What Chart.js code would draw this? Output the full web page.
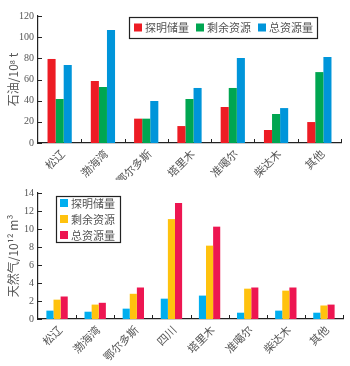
<!DOCTYPE html>
<html>
<head>
<meta charset="utf-8">
<script src="https://cdn.jsdelivr.net/npm/chart.js@4/dist/chart.umd.min.js"></script>
<style>
  html, body { margin: 0; padding: 0; background: #fff; }
  #wrap { position: relative; width: 350px; height: 366px; }
  #oilBox { position: absolute; left: 0; top: 0; width: 350px; height: 180px; }
  #gasBox { position: absolute; left: 0; top: 180px; width: 350px; height: 186px; }
</style>
</head>
<body>
<div id="wrap">
  <div id="oilBox"><canvas id="oilChart" width="350" height="180"></canvas></div>
  <div id="gasBox"><canvas id="gasChart" width="350" height="186"></canvas></div>
</div>
<script>
// 石油 (10^8 t)
const oilBasins = ["松辽", "渤海湾", "鄂尔多斯", "塔里木", "准噶尔", "柴达木", "其他"];
const oilProved = [79.4, 58.6, 23, 16, 34, 12.3, 19.8];
const oilRemain = [41.6, 52.9, 23, 41.6, 52, 27.4, 67];
const oilTotal = [73.7, 106.8, 39.7, 52, 80.3, 33, 81.3];

// 天然气 (10^12 m^3)
const gasBasins = ["松辽", "渤海湾", "鄂尔多斯", "四川", "塔里木", "准噶尔", "柴达木", "其他"];
const gasProved = [0.93, 0.81, 1.15, 2.26, 2.6, 0.7, 0.93, 0.7];
const gasRemain = [2.15, 1.6, 2.8, 11.1, 8.15, 3.37, 3.15, 1.5];
const gasTotal = [2.5, 1.8, 3.5, 12.9, 10.26, 3.5, 3.5, 1.6];

const seriesNames = ["探明储量", "剩余资源", "总资源量"];

const textGray = "#555";
const numFont = "'Liberation Serif', 'Noto Sans CJK SC', serif";
const cjkFont = "'Noto Sans CJK SC', 'Liberation Serif', sans-serif";

// 坐标轴内侧的小刻度 + 图内图例
const insideTicks = {
  id: "insideTicks",
  afterDraw(chart) {
    const ctx = chart.ctx;
    const a = chart.chartArea;
    const y = chart.scales.y;
    const n = chart.data.labels.length;
    ctx.save();
    ctx.strokeStyle = "#222";
    ctx.lineWidth = 1;
    ctx.beginPath();
    y.ticks.forEach((t) => {
      const py = Math.round(y.getPixelForValue(t.value)) + 0.5;
      ctx.moveTo(a.left, py);
      ctx.lineTo(a.left + 4, py);
    });
    for (let i = 1; i <= n; i++) {
      const px = Math.round(a.left + (i * (a.right - a.left)) / n) + 0.5;
      ctx.moveTo(px, a.bottom);
      ctx.lineTo(px, a.bottom - 4);
    }
    ctx.stroke();

    // legend
    const lg = chart.options.plugins.boxLegend;
    ctx.lineWidth = 1.2;
    ctx.strokeStyle = "#222";
    ctx.strokeRect(lg.x + 0.5, lg.y + 0.5, lg.w, lg.h);
    ctx.font = "11px " + cjkFont;
    ctx.textBaseline = "middle";
    ctx.textAlign = "left";
    chart.data.datasets.forEach((ds, i) => {
      let bx, by;
      if (lg.vertical) {
        bx = lg.x + 4;
        by = lg.y + 7 + i * 16;
      } else {
        bx = lg.x + 5 + i * 62;
        by = lg.y + lg.h / 2;
      }
      ctx.fillStyle = ds.backgroundColor;
      ctx.fillRect(bx, by - 4, 8, 8);
      ctx.fillStyle = textGray;
      ctx.fillText(ds.label, bx + 11, by + 0.5);
    });
    ctx.restore();
  },
};

function makeChart(id, labels, data, colors, yMax, yStep, yTitle, xHeight, pad, legend) {
  return new Chart(document.getElementById(id), {
    type: "bar",
    data: {
      labels: labels,
      datasets: data.map((d, i) => ({
        label: seriesNames[i],
        data: d,
        backgroundColor: colors[i],
        borderWidth: 0,
        categoryPercentage: 0.56,
        barPercentage: 1.0,
      })),
    },
    options: {
      responsive: false,
      animation: false,
      layout: { padding: pad },
      plugins: {
        legend: { display: false },
        tooltip: { enabled: false },
        boxLegend: legend,
      },
      scales: {
        x: {
          grid: { display: false, drawTicks: false },
          border: { display: true, color: "#222", width: 1.2 },
          ticks: {
            color: textGray,
            font: { family: cjkFont, size: 11 },
            maxRotation: 45,
            minRotation: 45,
            padding: 4,
            labelOffset: 3,
          },
          afterFit: (s) => { s.height = xHeight; },
        },
        y: {
          min: 0,
          max: yMax,
          grid: { display: false, drawTicks: false },
          border: { display: true, color: "#222", width: 1.2 },
          ticks: {
            stepSize: yStep,
            color: textGray,
            font: { family: numFont, size: 10 },
            padding: 4,
          },
          title: {
            display: true,
            text: yTitle,
            color: textGray,
            font: { family: cjkFont, size: 12 },
            padding: { top: 6, bottom: 0 },
          },
          afterFit: (s) => { s.width = 38; },
        },
      },
    },
    plugins: [insideTicks],
  });
}

makeChart(
  "oilChart",
  oilBasins,
  [oilProved, oilRemain, oilTotal],
  ["#ED1C24", "#00A651", "#0095DA"],
  120, 20, "石油/10⁸ t", 37,
  { top: 16, right: 9, left: 0, bottom: 0 },
  { x: 129, y: 17, w: 188, h: 21, vertical: false }
);

makeChart(
  "gasChart",
  gasBasins,
  [gasProved, gasRemain, gasTotal],
  ["#00AEEF", "#FFC20E", "#ED1651"],
  14, 2, "天然气/10¹² m³", 47,
  { top: 13, right: 7, left: 0, bottom: 0 },
  { x: 56, y: 16, w: 64, h: 46, vertical: true }
);
</script>
</body>
</html>
